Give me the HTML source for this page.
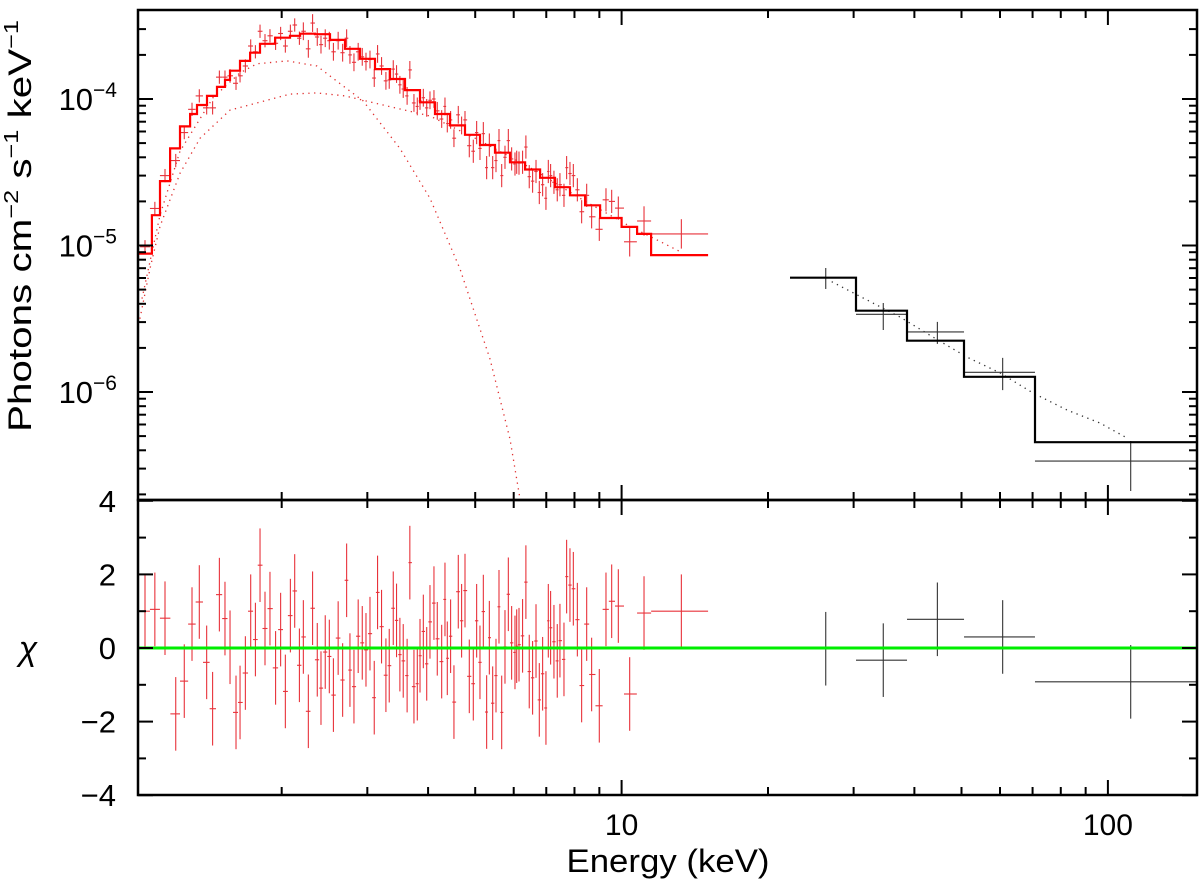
<!DOCTYPE html>
<html><head><meta charset="utf-8"><style>
html,body{margin:0;padding:0;background:#fff;}
svg{display:block;font-family:"Liberation Sans",Helvetica,Arial,sans-serif;}
</style></head><body>
<svg id="chart" width="1200" height="886" viewBox="0 0 1200 886" xmlns="http://www.w3.org/2000/svg">
<defs>
<clipPath id="clipTop"><rect x="138" y="10" width="1059" height="490"/></clipPath>
<clipPath id="clipBot"><rect x="138" y="500" width="1059" height="295"/></clipPath>
</defs>
<g id="gTop" clip-path="url(#clipTop)"></g>
<g id="gBot" clip-path="url(#clipBot)"></g>
<g id="gAxes"></g>
<text transform="translate(31,226) rotate(-90)" text-anchor="middle" font-size="32" textLength="412" lengthAdjust="spacingAndGlyphs">Photons cm<tspan font-size="20" dy="-13">−2</tspan><tspan dy="13"> s</tspan><tspan font-size="20" dy="-13">−1</tspan><tspan dy="13"> keV</tspan><tspan font-size="20" dy="-13">−1</tspan></text>
<text x="28" y="660" text-anchor="middle" font-size="34" font-style="italic">χ</text>
<text x="668" y="872" text-anchor="middle" font-size="32" textLength="203" lengthAdjust="spacingAndGlyphs">Energy (keV)</text>
</svg>
<script>
// ---- data ----
const redE = [1.047,1.097,1.151,1.211,1.261,1.308,1.354,1.402,1.442,1.489,1.529,1.566,1.611,1.642,1.684,1.727,1.766,1.805,1.848,1.892,1.943,1.990,2.035,2.084,2.127,2.175,2.216,2.269,2.315,2.367,2.409,2.458,2.506,2.555,2.613,2.669,2.720,2.763,2.816,2.873,2.929,2.981,3.038,3.100,3.149,3.209,3.276,3.328,3.392,3.445,3.500,3.556,3.622,3.669,3.741,3.801,3.850,3.911,3.974,4.036,4.113,4.178,4.266,4.333,4.381,4.450,4.521,4.615,4.688,4.764,4.862,4.955,5.034,5.114,5.196,5.278,5.346,5.431,5.517,5.596,5.668,5.757,5.849,5.941,6.036,6.085,6.152,6.257,6.356,6.458,6.561,6.668,6.773,6.880,6.989,7.068,7.145,7.259,7.374,7.468,7.612,7.708,7.831,7.957,8.110,8.276,8.476,8.677,8.998,9.287,9.541,9.846,10.39,11.12,13.27];
const redF = [9.8e-6,1.79e-5,3.0e-5,3.8e-5,5.9e-5,8.5e-5,1.05e-4,8.7e-5,8.7e-5,1.41e-4,1.41e-4,1.44e-4,1.28e-4,1.44e-4,1.68e-4,2.3e-4,2.1e-4,2.9e-4,2.5e-4,2.7e-4,2.4e-4,2.8e-4,2.3e-4,2.9e-4,3.2e-4,2.6e-4,2.9e-4,2.2e-4,3.3e-4,2.65e-4,2.35e-4,2.6e-4,2.5e-4,2.1e-4,2.5e-4,2.07e-4,2.6e-4,2.0e-4,1.78e-4,2.1e-4,1.94e-4,1.8e-4,1.86e-4,1.39e-4,2.03e-4,1.68e-4,1.33e-4,1.35e-4,1.6e-4,1.48e-4,1.25e-4,1.17e-4,1.05e-4,1.58e-4,9.4e-5,8.9e-5,9.7e-5,1.02e-4,8.7e-5,9.8e-5,1.0e-4,8.3e-5,7.3e-5,8.9e-5,6.8e-5,7.2e-5,5.4e-5,7.8e-5,6.6e-5,7.2e-5,4.8e-5,4.4e-5,5.9e-5,4.6e-5,5.8e-5,3.4e-5,4.85e-5,3.4e-5,3.8e-5,5.2e-5,3.0e-5,4.0e-5,5.2e-5,3.9e-5,3.6e-5,3.7e-5,3.65e-5,3.7e-5,4.7e-5,2.95e-5,2.75e-5,3.2e-5,2.3e-5,2.6e-5,2.1e-5,3.2e-5,3.0e-5,2.7e-5,2.4e-5,2.6e-5,2.2e-5,3.4e-5,3.1e-5,3.0e-5,2.4e-5,1.7e-5,2.2e-5,1.57e-5,1.29e-5,2.05e-5,2.0e-5,1.8e-5,1.06e-5,1.47e-5,1.2e-5];
const redChi = [1.0,1.05,0.81,-1.79,-0.9,0.65,1.25,-0.39,-1.65,1.45,0.8,0.02,-1.75,-1.48,-0.68,1.0,0.23,2.25,0.53,1.07,-0.54,0.5,-1.18,0.88,1.55,-0.47,0.3,-1.72,1.08,-0.32,-1.09,-0.11,-0.23,-1.28,0.27,-0.87,1.84,-0.6,-1.05,0.32,0.14,-0.05,0.39,-1.35,1.51,0.58,-0.74,-0.48,1.08,0.75,-0.18,-0.35,-0.75,2.32,-1.05,-0.97,-0.21,0.45,-0.43,0.71,1.22,0.25,-0.37,1.32,-0.28,0.32,-1.47,1.53,0.74,1.56,-0.77,-0.97,0.74,-0.39,0.99,-1.74,0.28,-1.5,-0.75,1.12,-1.75,0.03,1.46,0.14,-0.12,0.05,0.09,0.33,1.79,-0.64,-0.81,0.19,-1.41,-0.7,-1.63,0.74,0.55,0.17,-0.35,0.2,-0.31,1.94,1.71,1.61,0.77,-1.02,0.65,-0.72,-1.57,1.05,1.27,1.14,-1.25,0.95,1.0];
const redWideLo = [10.76,11.50];
const redWideHi = [11.50,15.06];
const redModelEdges = [1.013,1.082,1.124,1.179,1.236,1.296,1.339,1.404,1.472,1.529,1.566,1.642,1.722,1.805,1.939,2.080,2.182,2.342,2.514,2.699,2.898,3.111,3.340,3.586,3.849,4.133,4.437,4.764,5.114,5.492,5.895,6.331,6.797,7.297,7.834,8.411,9.030,10.0,10.76,11.50,15.06];
const redModelF = [8.8e-6,1.61e-5,2.75e-5,4.6e-5,6.5e-5,7.9e-5,9.1e-5,1.05e-4,1.21e-4,1.35e-4,1.56e-4,1.82e-4,2.07e-4,2.38e-4,2.62e-4,2.70e-4,2.79e-4,2.77e-4,2.53e-4,2.2e-4,1.88e-4,1.6e-4,1.37e-4,1.15e-4,9.5e-5,7.9e-5,6.6e-5,5.7e-5,4.85e-5,4.3e-5,3.7e-5,3.3e-5,2.9e-5,2.5e-5,2.2e-5,1.88e-5,1.54e-5,1.34e-5,1.2e-5,8.6e-6];
const compE = [1.022,1.072,1.124,1.236,1.359,1.566,1.779,2.080,2.363,2.699,3.185,4.036,5.114,6.482,8.213,10.41,13.18];
const compF = [3.16e-6,6.95e-6,1.35e-5,3.11e-5,5.4e-5,8.4e-5,9.4e-5,1.08e-4,1.1e-4,1.05e-4,9.2e-5,7.65e-5,5.2e-5,3.4e-5,2.1e-5,1.35e-5,9.1e-6];
const diskE = [1.032,1.124,1.236,1.445,1.642,1.779,2.051,2.363,2.673,2.941,3.500,4.036,4.651,5.362,5.895,6.183];
const diskF = [4.34e-6,1.61e-5,4.4e-5,1.02e-4,1.51e-4,1.74e-4,1.82e-4,1.68e-4,1.23e-4,9.7e-5,4.6e-5,2.1e-5,6.95e-6,1.68e-6,4.77e-7,1.85e-7];
const blackE = [26.29,34.52,44.60,60.76,111.4];
const blackLo = [22.20,30.34,38.63,50.60,70.80];
const blackHi = [30.34,38.63,50.60,70.80,160];
const blackF = [6.03e-6,3.39e-6,2.57e-6,1.363e-6,3.38e-7];
const blackFlo = [5.05e-6,2.65e-6,2.13e-6,1.03e-6,2.11e-7];
const blackFhi = [7.02e-6,4.05e-6,3.01e-6,1.71e-6,4.63e-7];
const blackChi = [-0.02,-0.33,0.78,0.30,-0.92];
const blackModelEdges = [22.20,30.34,38.63,50.60,70.80,160];
const blackModelF = [6.03e-6,3.59e-6,2.24e-6,1.27e-6,4.54e-7];
const bdE = [27.04,31.36,37.36,43.69,51.32,60.0,70.15,82.4,96.3,109.5];
const bdF = [5.66e-6,4.39e-6,3.25e-6,2.37e-6,1.73e-6,1.35e-6,9.85e-7,7.53e-7,6.14e-7,4.85e-7];
const xMajorTicks = [10,100];
const xMinorTicks = [2,3,4,5,6,7,8,9,20,30,40,50,60,70,80,90];
const xTickLabels = ["10","100"];
const yDecades = [-4,-5,-6];
const chiTicks = [4,3,2,1,0,-1,-2,-3,-4];
const chiTickLabels = ["4","","2","","0","","−2","","−4"];

// ---- scales ----
const L=138,R=1197,T=10,MID=500,B=795;
function X(e){return 621.6+486.3*(Math.log10(e)-1);}
function Y(f){return 99+146.5*(-4-Math.log10(f));}
function C(c){return 648-36.8*c;}
const NS="http://www.w3.org/2000/svg";
function mk(parent,tag,attrs){const el=document.createElementNS(NS,tag);for(const k in attrs)el.setAttribute(k,attrs[k]);parent.appendChild(el);return el;}
const gTop=document.getElementById('gTop'),gBot=document.getElementById('gBot'),gAx=document.getElementById('gAxes');

const n=redE.length;
const lo=[],hi=[];
for(let i=0;i<n;i++){
  let l=i>0?Math.sqrt(redE[i-1]*redE[i]):redE[0]*redE[0]/Math.sqrt(redE[0]*redE[1]);
  let h=i<n-1?Math.sqrt(redE[i]*redE[i+1]):redE[i]*1.1;
  lo.push(l);hi.push(h);
}
for(let k=0;k<redWideLo.length;k++){const i=n-redWideLo.length+k;lo[i]=redWideLo[k];hi[i]=redWideHi[k];}
hi[n-3]=Math.min(hi[n-3],redWideLo[0]);

function dotted(parent,E,F,color,name){
  const p=E.map((e,i)=>X(e).toFixed(1)+','+Y(F[i]).toFixed(1)).join(' ');
  const el=mk(parent,'polyline',{points:p,fill:'none',stroke:color,'stroke-width':1.3,'stroke-dasharray':'1.3 4.5'});
  
  
}
dotted(gTop,compE,compF,'#e03030','comptonized-component');
dotted(gTop,diskE,diskF,'#e03030','disk-component');
dotted(gTop,bdE,bdF,'#333','black-model-component');

function steps(parent,edges,vals,color,name){
  let d='M'+X(edges[0]).toFixed(1)+','+Y(vals[0]).toFixed(1);
  for(let i=0;i<vals.length;i++){
    d+=' L'+X(edges[i]).toFixed(1)+','+Y(vals[i]).toFixed(1)+' L'+X(edges[i+1]).toFixed(1)+','+Y(vals[i]).toFixed(1);
  }
  const el=mk(parent,'path',{d:d,fill:'none',stroke:color,'stroke-width':2.2});
  
  
}

for(let i=0;i<n;i++){
  const e=redE[i],f=redF[i];
  const frac=e<2.2?0.11:(e<4.8?0.15:(e<10?0.2:0.26));
  const g=mk(gTop,'g',{stroke:'#e8323a','stroke-width':1.1});
  
  
  mk(g,'line',{x1:X(lo[i]),x2:X(hi[i]),y1:Y(f),y2:Y(f)});
  mk(g,'line',{x1:X(e),x2:X(e),y1:Y(f*(1+frac)),y2:Y(f/(1+frac))});
}
steps(gTop,redModelEdges,redModelF,'#ff0000','red-model-step');

for(let i=0;i<blackE.length;i++){
  const g=mk(gTop,'g',{stroke:'#333','stroke-width':1.1});
  
  
  mk(g,'line',{x1:X(blackLo[i]),x2:X(blackHi[i]),y1:Y(blackF[i]),y2:Y(blackF[i])});
  mk(g,'line',{x1:X(blackE[i]),x2:X(blackE[i]),y1:Y(blackFhi[i]),y2:Y(blackFlo[i])});
}
steps(gTop,blackModelEdges,blackModelF,'#000','black-model-step');

for(let i=0;i<n;i++){
  const g=mk(gBot,'g',{stroke:'#e8323a','stroke-width':1.1});
  
  
  mk(g,'line',{x1:X(lo[i]),x2:X(hi[i]),y1:C(redChi[i]),y2:C(redChi[i])});
  mk(g,'line',{x1:X(redE[i]),x2:X(redE[i]),y1:C(redChi[i]+1),y2:C(redChi[i]-1)});
}
for(let i=0;i<blackE.length;i++){
  const g=mk(gBot,'g',{stroke:'#333','stroke-width':1.1});
  
  
  mk(g,'line',{x1:X(blackLo[i]),x2:X(blackHi[i]),y1:C(blackChi[i]),y2:C(blackChi[i])});
  mk(g,'line',{x1:X(blackE[i]),x2:X(blackE[i]),y1:C(blackChi[i]+1),y2:C(blackChi[i]-1)});
}
const zl=mk(gBot,'line',{x1:L,x2:R,y1:C(0),y2:C(0),stroke:'#00ee00','stroke-width':3});



const f1=mk(gAx,'rect',{x:L,y:T,width:R-L,height:MID-T,fill:'none',stroke:'#000','stroke-width':2.5});


const f2=mk(gAx,'rect',{x:L,y:MID,width:R-L,height:B-MID,fill:'none',stroke:'#000','stroke-width':2.5});



function tick(x1,y1,x2,y2){const t=mk(gAx,'line',{x1:x1,y1:y1,x2:x2,y2:y2,stroke:'#000','stroke-width':2});}
function xt(e,len){const x=X(e);tick(x,T,x,T+len);tick(x,MID,x,MID-len);tick(x,MID,x,MID+len);tick(x,B,x,B-len);}
xMajorTicks.forEach(e=>xt(e,15));
xMinorTicks.forEach(e=>xt(e,8));
xMajorTicks.forEach((e,i)=>{
  const t=mk(gAx,'text',{x:X(e),y:835,'text-anchor':'middle','font-size':30});
  t.textContent=xTickLabels[i];
  
  
});
for(let k=-7;k<=-3;k++){
  for(let m=1;m<=9;m++){
    const f=m*Math.pow(10,k);const y=Y(f);
    if(y<T+1||y>MID-1)continue;
    const len=m===1?15:8;
    tick(L,y,L+len,y);tick(R,y,R-len,y);
  }
}
yDecades.forEach(d=>{
  const t=mk(gAx,'text',{x:117,y:Y(Math.pow(10,d))+11,'text-anchor':'end','font-size':31});
  
  
  t.appendChild(document.createTextNode('10'));
  const s=mk(t,'tspan',{'font-size':21,dy:-13});
  s.textContent='−'+(-d);
});
chiTicks.forEach((c,i)=>{
  const y=C(c);const len=(c%2===0)?15:8;
  tick(L,y,L+len,y);tick(R,y,R-len,y);
  if(chiTickLabels[i]){
    const t=mk(gAx,'text',{x:116,y:y+11,'text-anchor':'end','font-size':31});
    t.textContent=chiTickLabels[i];
    
    
  }
});
</script>
</body></html>
